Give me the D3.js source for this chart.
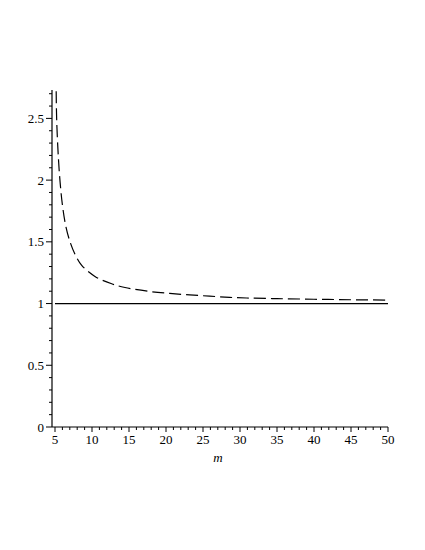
<!DOCTYPE html>
<html>
<head>
<meta charset="utf-8">
<script src="https://cdn.jsdelivr.net/npm/d3@7"></script>
<style>
  body { margin: 0; background: #fff; }
  svg { display: block; }
  .lbl { font-family: 'Liberation Serif', 'Times New Roman', 'DejaVu Serif', serif; font-size: 13px; }
</style>
</head>
<body>
<div id="viz"></div>
<script>
// values
const mVals   = [5.16, 5.23, 5.45, 5.68, 6.0, 6.45, 7.03, 7.7, 8.61, 10.4, 12.66, 14.46, 17.8, 20.5, 23.2, 25.9, 28.6, 30.9, 35, 40, 45, 50];
const ratio   = [2.72, 2.48, 2.19, 1.99, 1.80, 1.63, 1.50, 1.40, 1.31, 1.22, 1.16, 1.13, 1.098, 1.082, 1.07, 1.06, 1.05, 1.045, 1.04, 1.035, 1.031, 1.028];
const refLine = [1, 1];
const refM    = [5, 50];
const xTicks  = [5, 10, 15, 20, 25, 30, 35, 40, 45, 50];
const yTicks  = [0, 0.5, 1, 1.5, 2, 2.5];
const xLabel  = 'm';

const width = 425, height = 550;
const svg = d3.select('#viz').append('svg')
  .attr('width', width).attr('height', height)
  .attr('viewBox', `0 0 ${width} ${height}`);

const x = d3.scaleLinear().domain([5, 50]).range([55, 388]);
const y = d3.scaleLinear().domain([0, 2.73]).range([427, 90]);
const axisX = 52; // y-axis sits slightly left of m=5

// minor ticks
const xMinor = d3.range(5, 51, 1);
const yMinor = d3.range(0, 2.71, 0.1);

const axes = svg.append('g').attr('stroke', '#000').attr('stroke-width', 1.2);
axes.append('line').attr('x1', axisX).attr('x2', x(50)).attr('y1', y(0)).attr('y2', y(0));
axes.append('line').attr('x1', axisX).attr('x2', axisX).attr('y1', y(0)).attr('y2', y.range()[1]);

axes.selectAll('.xmin').data(xMinor).enter().append('line')
  .attr('x1', d => x(d)).attr('x2', d => x(d))
  .attr('y1', y(0)).attr('y2', d => y(0) + (xTicks.includes(d) ? 5 : 3))
  .attr('stroke-width', 1);
axes.selectAll('.ymin').data(yMinor).enter().append('line')
  .attr('y1', d => y(d)).attr('y2', d => y(d))
  .attr('x1', axisX).attr('x2', d => axisX - (yTicks.some(t => Math.abs(t - d) < 1e-6) ? 6 : 3))
  .attr('stroke-width', 1);

svg.selectAll('.xl').data(xTicks).enter().append('text')
  .attr('class', 'lbl')
  .attr('x', d => x(d)).attr('y', y(0) + 17)
  .attr('text-anchor', 'middle').text(d => d);
svg.selectAll('.yl').data(yTicks).enter().append('text')
  .attr('class', 'lbl')
  .attr('x', axisX - 8).attr('y', d => y(d) + 4.5)
  .attr('text-anchor', 'end').text(d => d);

svg.append('text').attr('class', 'lbl').attr('x', 218).attr('y', 462)
  .attr('text-anchor', 'middle').attr('font-style', 'italic').text(xLabel);

const line = d3.line().curve(d3.curveCatmullRom);

svg.append('path')
  .attr('d', line(refM.map((m, i) => [x(m), y(refLine[i])])))
  .attr('fill', 'none').attr('stroke', '#000').attr('stroke-width', 1.2);

svg.append('path')
  .attr('d', line(mVals.map((m, i) => [x(m), y(ratio[i])])))
  .attr('fill', 'none').attr('stroke', '#000').attr('stroke-width', 1.2)
  .attr('stroke-dasharray', '12,5');
</script>
</body>
</html>
